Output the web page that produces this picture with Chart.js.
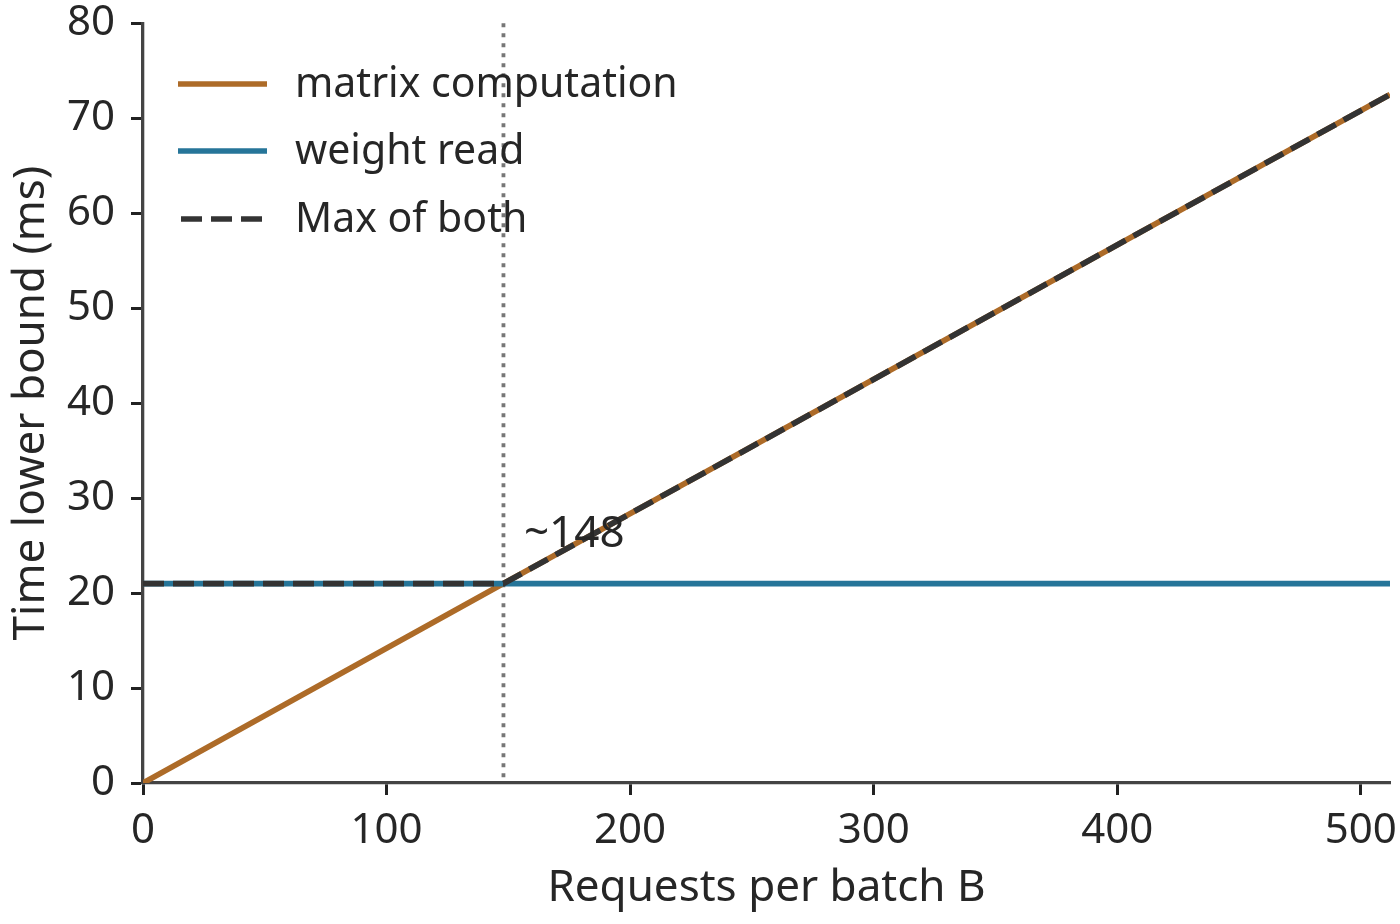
<!DOCTYPE html>
<html>
<head>
<meta charset="utf-8">
<script src="https://cdn.jsdelivr.net/npm/chart.js@4.4.0/dist/chart.umd.min.js"></script>
<style>
  html, body { margin: 0; padding: 0; background: #ffffff; }
  #wrap { width: 1400px; height: 924px; }
</style>
</head>
<body>
<div id="wrap"><canvas id="c" width="1400" height="924"></canvas></div>
<script>
// ---- data ----
const batchSizes = [0, 148, 512];
const matrixComputation = [0, 21, 72.5];
const weightRead = [21, 21, 21];
const maxOfBoth = [21, 21, 72.5];
const crossoverB = 148;
const crossoverLabel = '~148';
const annotationPos = { x: 156.4, y: 24.9 };
const seriesLabels = ['matrix computation', 'weight read', 'Max of both'];
const xTicks = [0, 100, 200, 300, 400, 500];
const yTicks = [0, 10, 20, 30, 40, 50, 60, 70, 80];
const xTitle = 'Requests per batch B';
const yTitle = 'Time lower bound (ms)';

const FONT = '"Noto Sans", "Open Sans", sans-serif';
const TICK_FS = 42;
const TITLE_FS = 44;
const LEGEND_FS = 41;
const ANNOT_FS = 44;
const TEXT = '#262626';
const AXIS = '#444444';
const ORANGE = '#ad6b28';
const BLUE = '#267599';
const DARK = '#333333';
const DASH = [21, 9];
const LW = 5.7;

function pts(ys) { return batchSizes.map((x, i) => ({ x: x, y: ys[i] })); }

const crossoverPlugin = {
  id: 'crossover',
  beforeDatasetsDraw(chart) {
    const { ctx, chartArea, scales } = chart;
    const x = scales.x.getPixelForValue(crossoverB);
    ctx.save();
    ctx.strokeStyle = '#777777';
    ctx.lineWidth = 3.8;
    ctx.setLineDash([4, 6]);
    ctx.beginPath();
    ctx.moveTo(x, chartArea.top);
    ctx.lineTo(x, chartArea.bottom);
    ctx.stroke();
    ctx.restore();
  },
  afterDatasetsDraw(chart) {
    const { ctx, scales } = chart;
    ctx.save();
    ctx.font = ANNOT_FS + 'px ' + FONT;
    ctx.fillStyle = TEXT;
    ctx.textAlign = 'left';
    ctx.textBaseline = 'alphabetic';
    ctx.fillText(crossoverLabel, scales.x.getPixelForValue(annotationPos.x), scales.y.getPixelForValue(annotationPos.y));
    ctx.restore();
  }
};

const legendPlugin = {
  id: 'customLegend',
  afterDraw(chart) {
    const { ctx } = chart;
    const rows = [84, 151, 219];
    const tx = 295;
    ctx.save();
    chart.data.datasets.forEach((ds, i) => {
      const y = rows[i];
      const dashed = !!ds.borderDash;
      ctx.strokeStyle = ds.borderColor;
      ctx.lineWidth = ds.borderWidth;
      ctx.setLineDash(dashed ? ds.borderDash : []);
      ctx.lineCap = 'butt';
      ctx.beginPath();
      ctx.moveTo(dashed ? 181 : 178, y);
      ctx.lineTo(dashed ? 262 : 267, y);
      ctx.stroke();
      ctx.setLineDash([]);
      ctx.font = LEGEND_FS + 'px ' + FONT;
      ctx.fillStyle = TEXT;
      ctx.textAlign = 'left';
      ctx.textBaseline = 'alphabetic';
      ctx.fillText(ds.label, tx, y + 13);
    });
    ctx.restore();
  }
};

new Chart(document.getElementById('c'), {
  type: 'line',
  data: {
    datasets: [
      { label: seriesLabels[0], data: pts(matrixComputation), borderColor: ORANGE, borderWidth: LW, pointRadius: 0, tension: 0, fill: false, order: 2 },
      { label: seriesLabels[1], data: pts(weightRead), borderColor: BLUE, borderWidth: LW, pointRadius: 0, tension: 0, fill: false, order: 1 },
      { label: seriesLabels[2], data: pts(maxOfBoth), borderColor: DARK, borderWidth: LW, borderDash: DASH, pointRadius: 0, tension: 0, fill: false, order: 0 }
    ]
  },
  options: {
    responsive: false,
    devicePixelRatio: 1,
    animation: false,
    layout: { padding: { left: 0, right: 10, top: 23.3, bottom: 0 } },
    plugins: { legend: { display: false }, tooltip: { enabled: false } },
    scales: {
      x: {
        type: 'linear',
        min: 0,
        max: 512,
        afterBuildTicks(scale) { scale.ticks = xTicks.map(v => ({ value: v })); },
        afterFit(scale) { scale.height = 141; scale.paddingLeft = 0; scale.paddingRight = 0; },
        ticks: { color: TEXT, font: { family: FONT, size: TICK_FS }, padding: 10.5, maxRotation: 0, autoSkip: false },
        grid: { display: true, drawOnChartArea: false, drawTicks: true, tickLength: 12, tickWidth: 3, tickColor: '#222222' },
        border: { display: true, color: AXIS, width: 3.3 },
        title: { display: true, text: xTitle, color: TEXT, font: { family: FONT, size: TITLE_FS }, padding: { top: 0, bottom: 9 } }
      },
      y: {
        type: 'linear',
        min: 0,
        max: 80,
        afterBuildTicks(scale) { scale.ticks = yTicks.map(v => ({ value: v })); },
        afterFit(scale) { scale.width = 143; scale.paddingTop = 0; scale.paddingBottom = 0; },
        ticks: { color: TEXT, font: { family: FONT, size: TICK_FS }, padding: 16, autoSkip: false },
        grid: { display: true, drawOnChartArea: false, drawTicks: true, tickLength: 12, tickWidth: 3, tickColor: '#222222' },
        border: { display: true, color: AXIS, width: 3.3 },
        title: { display: true, text: yTitle, color: TEXT, font: { family: FONT, size: TITLE_FS }, padding: { top: 5, bottom: 0 } }
      }
    }
  },
  plugins: [crossoverPlugin, legendPlugin]
});
</script>
</body>
</html>
